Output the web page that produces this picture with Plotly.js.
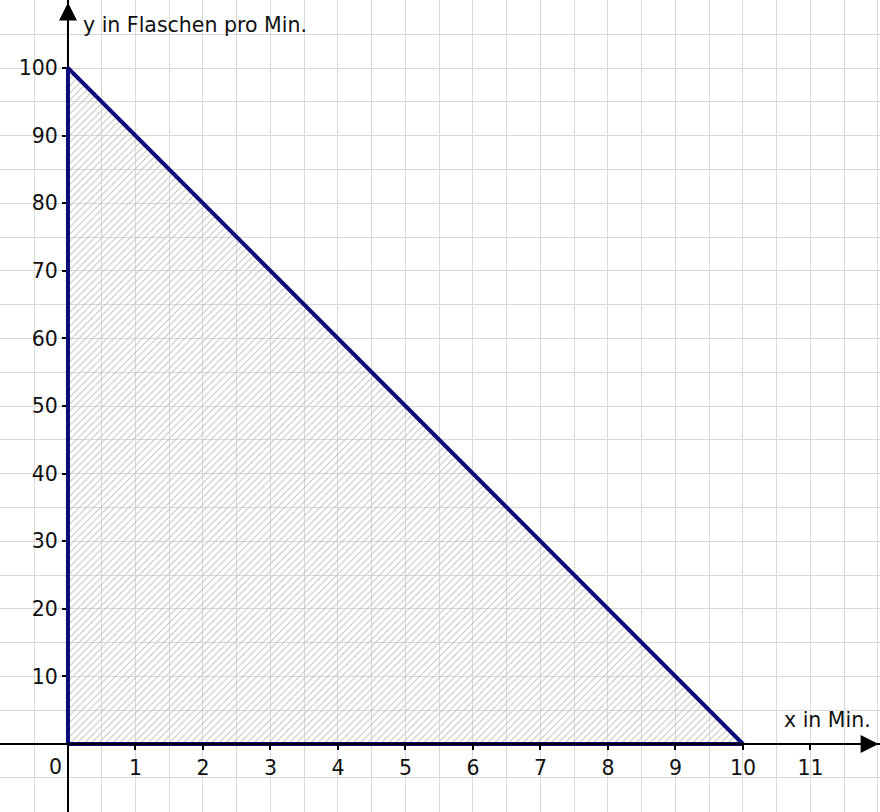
<!DOCTYPE html>
<html><head><meta charset="utf-8">
<script src="https://cdn.plot.ly/plotly-3.0.1.min.js"></script>
<style>html,body{margin:0;padding:0;background:#fff}#chart{width:880px;height:812px}</style>
</head><body><div id="chart"></div>
<script>
// Data
const triangleX = [0, 0, 10, 0];
const triangleY = [0, 100, 0, 0];
const xTickVals = [1,2,3,4,5,6,7,8,9,10,11];
const xTickText = ['1','2','3','4','5','6','7','8','9','10','11'];
const yTickVals = [10,20,30,40,50,60,70,80,90,100];
const yTickText = ['10','20','30','40','50','60','70','80','90','100'];
const xLabel = 'x in Min.';
const yLabel = 'y in Flaschen pro Min.';

const xRange = [-1.007, 12.03];
const yRange = [-10.06, 110.06];
const xPos = (0 - xRange[0]) / (xRange[1] - xRange[0]);
const yPos = (0 - yRange[0]) / (yRange[1] - yRange[0]);
const font = {family: 'DejaVu Sans, Verdana, sans-serif', size: 20.5, color: '#111'};

const traces = [{
  x: triangleX, y: triangleY, type: 'scatter', mode: 'lines',
  fill: 'toself', fillcolor: 'rgba(255,255,255,0)',
  fillpattern: {shape: '/', fgcolor: '#bdbdbd', bgcolor: 'rgba(255,255,255,0)', size: 5, solidity: 0.18},
  line: {color: '#0b0b7a', width: 4}, hoverinfo: 'skip', cliponaxis: false
}];

const gridColor = '#d9d9d9';
const layout = {
  width: 880, height: 812, margin: {l: 0, r: 0, t: 0, b: 0},
  paper_bgcolor: '#fff', plot_bgcolor: '#fff', showlegend: false,
  font: font,
  xaxis: {
    range: xRange, anchor: 'free', position: yPos,
    tickvals: xTickVals, ticktext: xTickText,
    showgrid: true, gridcolor: gridColor, gridwidth: 1,
    minor: {tick0: 0, dtick: 0.5, showgrid: true, gridcolor: gridColor, gridwidth: 1, ticks: ''},
    zeroline: false, showline: true, linecolor: '#000', linewidth: 2,
    ticks: 'outside', ticklen: 5, tickwidth: 2, tickcolor: '#000',
    tickfont: font, fixedrange: true, layer: 'above traces'
  },
  yaxis: {
    range: yRange, anchor: 'free', position: xPos,
    tickvals: yTickVals, ticktext: yTickText,
    showgrid: true, gridcolor: gridColor, gridwidth: 1,
    minor: {tick0: 0, dtick: 5, showgrid: true, gridcolor: gridColor, gridwidth: 1, ticks: ''},
    zeroline: false, showline: true, linecolor: '#000', linewidth: 2,
    ticks: 'outside', ticklen: 5, tickwidth: 2, tickcolor: '#000',
    tickfont: font, fixedrange: true, layer: 'below traces'
  },
  annotations: [
    {x: 0, y: 109.7, ax: 0, ay: 100, xref: 'x', yref: 'y', axref: 'x', ayref: 'y',
     text: '', showarrow: true, arrowhead: 2, arrowsize: 1.8, arrowwidth: 2, arrowcolor: '#000'},
    {x: 12.01, y: 0, ax: 11, ay: 0, xref: 'x', yref: 'y', axref: 'x', ayref: 'y',
     text: '', showarrow: true, arrowhead: 2, arrowsize: 1.8, arrowwidth: 2, arrowcolor: '#000'},
    {x: 0.19, y: 106.4, xref: 'x', yref: 'y', text: yLabel, showarrow: false,
     xanchor: 'left', yanchor: 'middle', font: font},
    {x: 10.58, y: 3.55, xref: 'x', yref: 'y', text: xLabel, showarrow: false,
     xanchor: 'left', yanchor: 'middle', font: font},
    {x: -0.19, y: -3.4, xref: 'x', yref: 'y', text: '0', showarrow: false,
     xanchor: 'center', yanchor: 'middle', font: font}
  ]
};
Plotly.newPlot('chart', traces, layout, {staticPlot: true, displayModeBar: false});
</script></body></html>
